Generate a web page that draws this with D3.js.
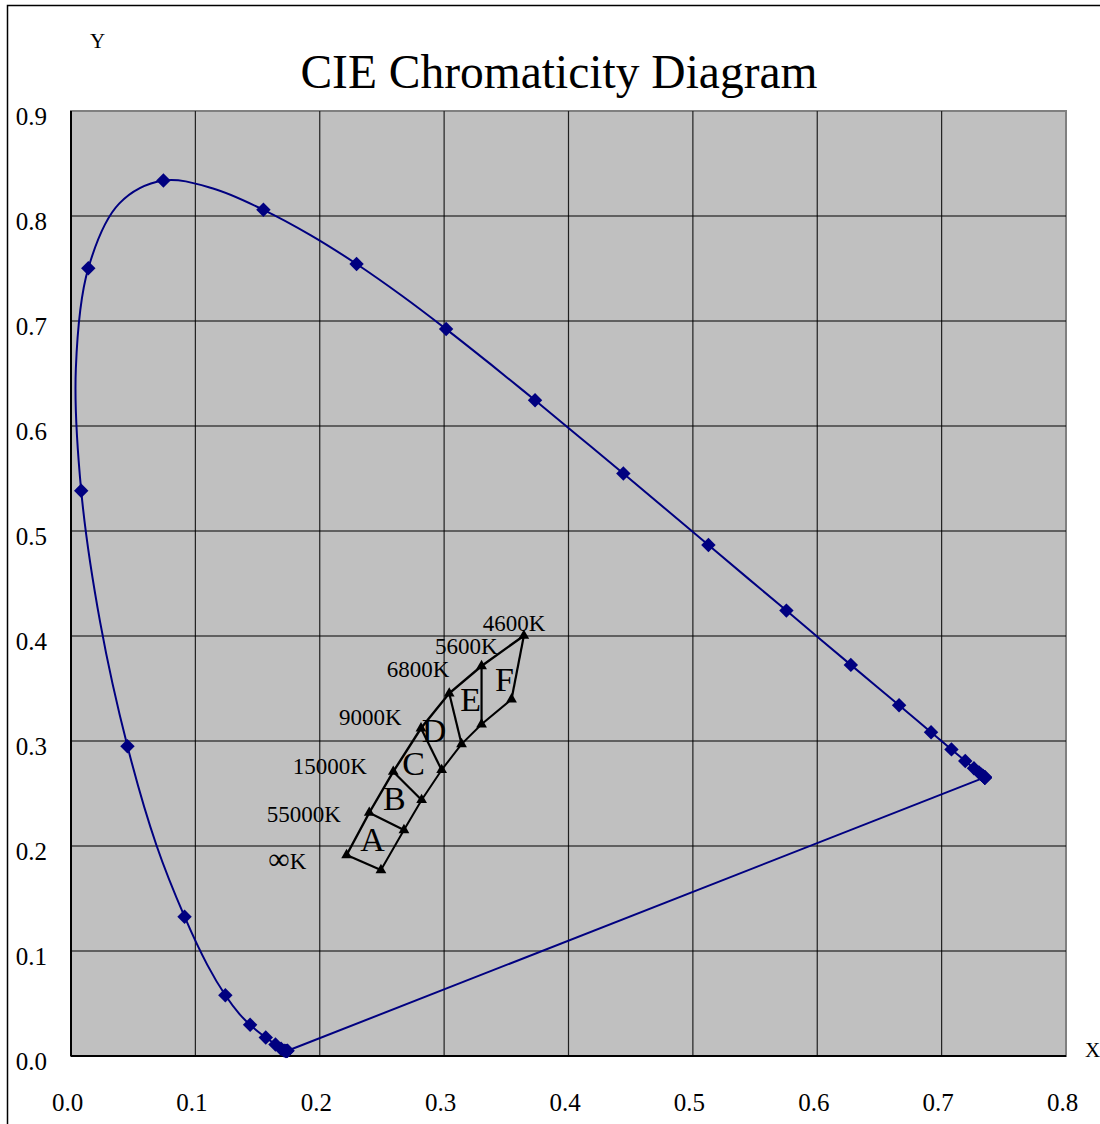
<!DOCTYPE html>
<html>
<head>
<meta charset="utf-8">
<script src="https://cdn.jsdelivr.net/npm/d3@7"></script>
<style>
  body { margin: 0; background: #fff; }
  text { font-family: "Liberation Serif", "Times New Roman", serif; fill: #000; }
</style>
</head>
<body>
<svg id="chart" width="1100" height="1124"></svg>
<script>
// CIE 1931 spectral locus, 5nm steps (wavelength, x, y)
var wavelengths = [380,385,390,395,400,405,410,415,420,425,430,435,440,445,450,455,460,465,470,475,
  480,485,490,495,500,505,510,515,520,525,530,535,540,545,550,555,560,565,570,575,
  580,585,590,595,600,605,610,615,620,625,630,635,640,645,650,655,660,665,670,675,
  680,685,690,695,700,710,720,730,740,750,760,770,780];
var locusX = [0.1741,0.1740,0.1738,0.1736,0.1733,0.1730,0.1726,0.1721,0.1714,0.1703,0.1689,0.1669,0.1644,0.1611,0.1566,0.1510,0.1440,0.1355,0.1241,0.1096,
  0.0913,0.0687,0.0454,0.0235,0.0082,0.0039,0.0139,0.0389,0.0743,0.1142,0.1547,0.1929,0.2296,0.2658,0.3016,0.3373,0.3731,0.4087,0.4441,0.4788,
  0.5125,0.5448,0.5752,0.6029,0.6270,0.6482,0.6658,0.6801,0.6915,0.7006,0.7079,0.7140,0.7190,0.7230,0.7260,0.7283,0.7300,0.7311,0.7320,0.7327,
  0.7334,0.7340,0.7344,0.7346,0.7347,0.7347,0.7347,0.7347,0.7347,0.7347,0.7347,0.7347,0.7347];
var locusY = [0.0050,0.0050,0.0049,0.0049,0.0048,0.0048,0.0048,0.0048,0.0051,0.0058,0.0069,0.0086,0.0109,0.0138,0.0177,0.0227,0.0297,0.0399,0.0578,0.0868,
  0.1327,0.2007,0.2950,0.4127,0.5384,0.6548,0.7502,0.8120,0.8338,0.8262,0.8059,0.7816,0.7543,0.7243,0.6923,0.6589,0.6245,0.5896,0.5547,0.5202,
  0.4866,0.4544,0.4242,0.3965,0.3725,0.3514,0.3340,0.3197,0.3083,0.2993,0.2920,0.2859,0.2809,0.2770,0.2740,0.2717,0.2700,0.2689,0.2680,0.2673,
  0.2666,0.2660,0.2656,0.2654,0.2653,0.2653,0.2653,0.2653,0.2653,0.2653,0.2653,0.2653,0.2653];

// colour temperature boxes
var tempLabels = ["\u221eK", "55000K", "15000K", "9000K", "6800K", "5600K", "4600K"];
var upperX = [0.2216, 0.2398, 0.2591, 0.2814, 0.3041, 0.3301, 0.3641];
var upperY = [0.1914, 0.2317, 0.2708, 0.3121, 0.3454, 0.3714, 0.4003];
var lowerX = [0.2492, 0.2677, 0.2819, 0.2980, 0.3140, 0.3301, 0.3542];
var lowerY = [0.1771, 0.2152, 0.2438, 0.2724, 0.2971, 0.3159, 0.3397];
var labelX = [0.1586, 0.1573, 0.1782, 0.2154, 0.2538, 0.2926, 0.3310];
var labelY = [0.1778, 0.2231, 0.2686, 0.3152, 0.3607, 0.3829, 0.4048];
var boxLetters = ["A", "B", "C", "D", "E", "F"];
var letterX = [0.2424, 0.2599, 0.2755, 0.2918, 0.3214, 0.3486];
var letterY = [0.1955, 0.2343, 0.2676, 0.2993, 0.3289, 0.3479];

var xTicks = [0, 0.1, 0.2, 0.3, 0.4, 0.5, 0.6, 0.7, 0.8];
var yTicks = [0, 0.1, 0.2, 0.3, 0.4, 0.5, 0.6, 0.7, 0.8, 0.9];

var svg = d3.select('#chart');
var plotL = 71, plotR = 1066, plotT = 111, plotB = 1056;

var x = d3.scaleLinear().domain([0, 0.8]).range([plotL, plotR]);
var y = d3.scaleLinear().domain([0, 0.9]).range([plotB, plotT]);
var fmt = d3.format(".1f");

// outer chart frame (runs off the right and bottom edge)
svg.append('rect')
    .attr('x', 7.5).attr('y', 5.5)
    .attr('width', 1120).attr('height', 1140)
    .attr('fill', 'none')
    .attr('stroke', '#000')
    .attr('stroke-width', 1.5);

// plot area
svg.append('rect')
    .attr('x', plotL).attr('y', plotT)
    .attr('width', plotR - plotL).attr('height', plotB - plotT)
    .attr('fill', '#c0c0c0')
    .attr('stroke', '#808080')
    .attr('stroke-width', 2);

var grid = svg.append('g').attr('class', 'grid');
grid.selectAll('line.v')
    .data(xTicks.slice(1, -1))
  .enter().append('line')
    .attr('class', 'v')
    .attr('x1', function(d) { return x(d); })
    .attr('x2', function(d) { return x(d); })
    .attr('y1', plotT).attr('y2', plotB)
    .attr('stroke', '#202020')
    .attr('stroke-width', 1.2);
grid.selectAll('line.h')
    .data(yTicks.slice(1, -1))
  .enter().append('line')
    .attr('class', 'h')
    .attr('y1', function(d) { return y(d); })
    .attr('y2', function(d) { return y(d); })
    .attr('x1', plotL).attr('x2', plotR)
    .attr('stroke', '#000')
    .attr('stroke-width', 1.2);

// axis lines
svg.append('line')
    .attr('x1', plotL).attr('x2', plotL).attr('y1', plotT).attr('y2', plotB)
    .attr('stroke', '#000').attr('stroke-width', 2);
svg.append('line')
    .attr('x1', plotL).attr('x2', plotR).attr('y1', plotB).attr('y2', plotB)
    .attr('stroke', '#000').attr('stroke-width', 2);

var yAxis = svg.append('g')
    .attr('transform', 'translate(' + plotL + ',0)')
    .call(d3.axisLeft(y).tickValues(yTicks).tickFormat(fmt).tickSize(0).tickPadding(24));
yAxis.select('.domain').remove();
yAxis.selectAll('text')
    .attr('dy', '0.52em')
    .style('font-size', '25px')
    .style('font-family', '"Liberation Serif", serif');

var xAxis = svg.append('g')
    .attr('transform', 'translate(0,' + plotB + ')')
    .call(d3.axisBottom(x).tickValues(xTicks).tickFormat(fmt).tickSize(0).tickPadding(37));
xAxis.select('.domain').remove();
xAxis.selectAll('text')
    .attr('dx', -4)
    .style('font-size', '25px')
    .style('font-family', '"Liberation Serif", serif');

// spectral locus
var locus = wavelengths.map(function(w, i) {
  return { nm: w, x: locusX[i], y: locusY[i] };
});

var line = d3.line()
    .x(function(d) { return x(d.x); })
    .y(function(d) { return y(d.y); })
    .curve(d3.curveCatmullRom.alpha(0.5));

svg.append('path')
    .datum(locus)
    .attr('d', line)
    .attr('fill', 'none')
    .attr('stroke', '#000080')
    .attr('stroke-width', 2);

// purple line closing the locus
svg.append('path')
    .datum([locus[locus.length - 1], locus[0]])
    .attr('d', d3.line().x(function(d) { return x(d.x); }).y(function(d) { return y(d.y); }))
    .attr('fill', 'none')
    .attr('stroke', '#000080')
    .attr('stroke-width', 2);

var diamond = d3.symbol().type(d3.symbolSquare).size(104);
svg.append('g')
    .selectAll('path')
    .data(locus.filter(function(d) { return d.nm % 10 === 0; }))
  .enter().append('path')
    .attr('d', diamond)
    .attr('transform', function(d) {
      return 'translate(' + x(d.x) + ',' + y(d.y) + ') rotate(45)';
    })
    .attr('fill', '#000080');

// colour temperature boxes
var upper = upperX.map(function(v, i) { return [x(v), y(upperY[i])]; });
var lower = lowerX.map(function(v, i) { return [x(v), y(lowerY[i])]; });
var boxes = svg.append('g').attr('class', 'boxes');

boxes.append('path')
    .attr('d', d3.line()(upper))
    .attr('fill', 'none').attr('stroke', '#000').attr('stroke-width', 2.4);
boxes.append('path')
    .attr('d', d3.line()(lower))
    .attr('fill', 'none').attr('stroke', '#000').attr('stroke-width', 2);
boxes.selectAll('line.rung')
    .data(upper)
  .enter().append('line')
    .attr('class', 'rung')
    .attr('x1', function(d) { return d[0]; })
    .attr('y1', function(d) { return d[1]; })
    .attr('x2', function(d, i) { return lower[i][0]; })
    .attr('y2', function(d, i) { return lower[i][1]; })
    .attr('stroke', '#000').attr('stroke-width', 2.2);

var tri = d3.symbol().type(d3.symbolTriangle).size(50);
boxes.selectAll('path.tri')
    .data(upper.concat(lower))
  .enter().append('path')
    .attr('class', 'tri')
    .attr('d', tri)
    .attr('transform', function(d) { return 'translate(' + d[0] + ',' + d[1] + ')'; })
    .attr('fill', '#000');

var temps = boxes.selectAll('text.temp')
    .data(tempLabels)
  .enter().append('text')
    .attr('class', 'temp')
    .attr('x', function(d, i) { return x(labelX[i]); })
    .attr('y', function(d, i) { return y(labelY[i]); })
    .style('font-size', '23px');
// the infinity sign is drawn a little larger, as in the original
temps.each(function(d) {
  var t = d3.select(this);
  if (d.charAt(0) === '\u221e') {
    t.append('tspan').style('font-size', '30px').text(d.charAt(0));
    t.append('tspan').text(d.slice(1));
  } else {
    t.text(d);
  }
});

boxes.selectAll('text.letter')
    .data(boxLetters)
  .enter().append('text')
    .attr('class', 'letter')
    .attr('x', function(d, i) { return x(letterX[i]); })
    .attr('y', function(d, i) { return y(letterY[i]); })
    .attr('text-anchor', 'middle')
    .style('font-size', '34px')
    .text(function(d) { return d; });

// titles
svg.append('text')
    .attr('x', 559).attr('y', 88)
    .attr('text-anchor', 'middle')
    .style('font-size', '47.5px')
    .text('CIE Chromaticity Diagram');
svg.append('text')
    .attr('x', 90).attr('y', 48)
    .style('font-size', '21px')
    .text('Y');
svg.append('text')
    .attr('x', 1085).attr('y', 1057)
    .style('font-size', '21px')
    .text('X');
</script>
</body>
</html>
